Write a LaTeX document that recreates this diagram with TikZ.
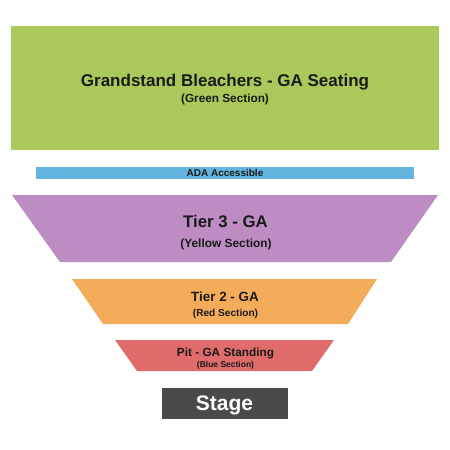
\documentclass[tikz,border=0pt]{standalone}
\usepackage{fontspec}
\setmainfont{Liberation Sans}
\definecolor{cgreen}{HTML}{ABC95A}
\definecolor{cblue}{HTML}{63B5DF}
\definecolor{cpurple}{HTML}{BC8CC3}
\definecolor{corange}{HTML}{F4AC5B}
\definecolor{cred}{HTML}{E06B6B}
\definecolor{cstage}{HTML}{4A4A4A}
\definecolor{ctext}{HTML}{1A1A1A}
\tikzset{
  lbl/.style={anchor=base, inner sep=0pt, text=ctext, font=\bfseries},
  sect/.style={draw=none}
}
\begin{document}
\begin{tikzpicture}[x=1pt,y=-1pt]
\useasboundingbox (0,0) rectangle (450,450);
\fill[white] (0,0) rectangle (450,450);
% shapes
\fill[cgreen] (11,26) rectangle (439,150);
\fill[cblue] (36,167) rectangle (414,179);
\fill[cpurple] (12,195) -- (438,195) -- (391,262) -- (60,262) -- cycle;
\fill[corange] (72,279) -- (377,279) -- (348,324) -- (103,324) -- cycle;
\fill[cred] (115,340) -- (334,340) -- (312,371) -- (137,371) -- cycle;
\fill[cstage] (162,388) rectangle (288,419);
% labels
\node[lbl, font=\bfseries\fontsize{17}{20}\selectfont] (gs) at (225,86.5) {Grandstand Bleachers - GA Seating};
\node[lbl, font=\bfseries\fontsize{11.8}{14}\selectfont] (gsub) at (225,102) {(Green Section)};
\node[lbl, font=\bfseries\fontsize{10}{12}\selectfont] (ada) at (225,176.5) {ADA Accessible};
\node[lbl, font=\bfseries\fontsize{16.8}{20}\selectfont] (t3) at (225.5,227.5) {Tier 3 - GA};
\node[lbl, font=\bfseries\fontsize{11.9}{14}\selectfont] (t3sub) at (226,247) {(Yellow Section)};
\node[lbl, font=\bfseries\fontsize{13.4}{16}\selectfont] (t2) at (225,301.5) {Tier 2 - GA};
\node[lbl, font=\bfseries\fontsize{10.1}{12}\selectfont] (t2sub) at (225.5,316.7) {(Red Section)};
\node[lbl, font=\bfseries\fontsize{11.8}{14}\selectfont] (pit) at (225.5,356.7) {Pit - GA Standing};
\node[lbl, font=\bfseries\fontsize{8.5}{10}\selectfont] (pitsub) at (225.5,367.7) {(Blue Section)};
\node[lbl, text=white, font=\bfseries\fontsize{21}{24}\selectfont] (stage) at (224.5,410.7) {Stage};
\end{tikzpicture}
\end{document}
